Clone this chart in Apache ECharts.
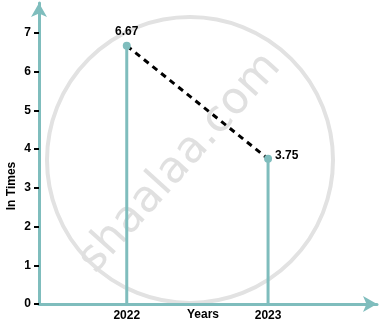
<!DOCTYPE html>
<html><head><meta charset="utf-8">
<script src="https://cdn.jsdelivr.net/npm/echarts@6/dist/echarts.min.js"></script>
<style>html,body{margin:0;padding:0;background:#fff}#c{width:383px;height:325px}</style>
</head><body><div id="c"></div>
<script>
var years = [2022, 2023];
var values = [6.67, 3.75];
var yTicks = [0, 1, 2, 3, 4, 5, 6, 7];
var xName = 'Years';
var yName = 'In Times';

var teal = '#7fbdbd';
var pts = years.map(function (y, i) { return [y, values[i]]; });
var chart = echarts.init(document.getElementById('c'));
chart.setOption({
  animation: false,
  grid: { left: 39, right: 6, top: 3, bottom: 21, containLabel: false, outerBoundsMode: 'none' },
  graphic: [
    { type: 'circle', shape: { cx: 190, cy: 160, r: 143 }, style: { fill: 'none', stroke: '#e2e2e2', lineWidth: 4 }, z: 0 },
    { type: 'text', x: 180, y: 163, rotation: Math.PI * 48 / 180, style: { text: 'shaalaa.com', font: '44px "DejaVu Sans"', fill: '#e0e0e0', align: 'center', verticalAlign: 'middle' }, z: 0 },
    { type: 'text', x: 203, y: 315, style: { text: xName, font: 'bold 12px Arial', fill: '#000', align: 'center', verticalAlign: 'middle' }, z: 10 },
    { type: 'text', x: 12, y: 186, rotation: Math.PI / 2, style: { text: yName, font: 'bold 12px Arial', fill: '#000', align: 'center', verticalAlign: 'middle' }, z: 10 }
  ],
  xAxis: {
    type: 'value', min: 2021.379, max: 2023.771,
    splitLine: { show: false },
    axisLine: { lineStyle: { color: teal, width: 3 }, symbol: ['none', 'arrow'], symbolSize: [12, 14] },
    axisTick: { show: false },
    axisLabel: { customValues: years, formatter: function (v) { return String(v); }, color: '#000', fontWeight: 'bold', fontSize: 12, fontFamily: 'Arial', margin: 6 }
  },
  yAxis: {
    type: 'value', min: 0, max: 7.775,
    splitLine: { show: false },
    axisLine: { lineStyle: { color: teal, width: 3 }, symbol: ['none', 'arrow'], symbolSize: [12, 14] },
    axisTick: { customValues: yTicks, length: 5, lineStyle: { color: '#000', width: 2 } },
    axisLabel: { customValues: yTicks, color: '#000', fontWeight: 'bold', fontSize: 12, fontFamily: 'Arial', margin: 8 }
  },
  series: [
    { type: 'bar', data: pts, barWidth: 3, itemStyle: { color: teal }, z: 3 },
    { type: 'line', data: pts, symbol: 'none', lineStyle: { color: '#000', width: 3, type: [6, 5] }, z: 4 },
    { type: 'scatter', symbolSize: 8, itemStyle: { color: teal, opacity: 1 }, z: 5,
      label: { show: true, color: '#000', fontWeight: 'bold', fontSize: 12, fontFamily: 'Arial',
        formatter: function (p) { return p.value[1].toFixed(2); } },
      data: [
        { value: pts[0], label: { position: 'top', distance: 4 } },
        { value: pts[1], label: { position: 'right', distance: 3, offset: [0, -3] } }
      ]
    }
  ]
});
</script></body></html>
